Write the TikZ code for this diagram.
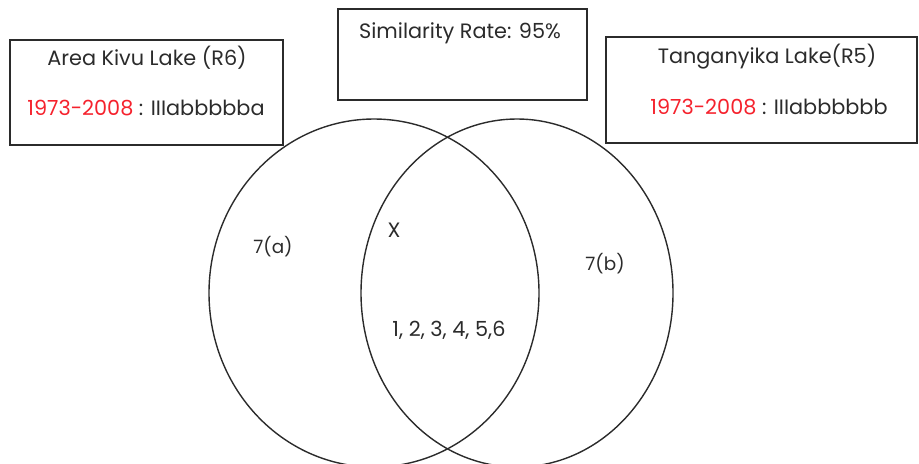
\documentclass[tikz,border=0pt]{standalone}
\usepackage{fontspec}
\setmainfont{Poppins}
\usetikzlibrary{shapes.geometric}
\definecolor{inkgray}{HTML}{2B2B2B}
\definecolor{yearred}{HTML}{F5222D}
\tikzset{lakebox/.style={draw=inkgray,line width=0.8pt,inner sep=0pt,outer sep=0pt},lakeset/.style={draw=inkgray,line width=0.7pt,ellipse,inner sep=0pt,outer sep=0pt},lakelabel/.style={font=\fontsize{10.4}{12}\selectfont,text=inkgray,inner sep=0pt},setlabel/.style={font=\fontsize{9.2}{11}\selectfont,text=inkgray,inner sep=0pt}}

\begin{document}
\begin{tikzpicture}[x=0.5pt,y=-0.5pt]
\useasboundingbox (0,0) rectangle (919,463);
\node[lakeset,minimum width=165pt,minimum height=174pt] (kivu) at (374,293) {};
\node[lakeset,minimum width=156pt,minimum height=174pt] (tang) at (517,293) {};
\node[lakebox,minimum width=136.5pt,minimum height=52.5pt] (kivubox) at (146.5,92.5) {};
\node[lakebox,minimum width=124.5pt,minimum height=45.5pt] (ratebox) at (462.5,54.5) {};
\node[lakebox,minimum width=155.5pt,minimum height=53pt] (tangbox) at (761.5,90) {};
\node[lakelabel] (kivutitle) at (147,58) {Area Kivu Lake (R6)};
\node[lakelabel] (kivucode) at (146,108) {\textcolor{yearred}{1973-2008} : IIIabbbbba};
\node[lakelabel] (rate) at (460,33) {Similarity Rate: 95\%};
\node[lakelabel] (tangtitle) at (767,57) {Tanganyika Lake(R5)};
\node[lakelabel] (tangcode) at (769,107) {\textcolor{yearred}{1973-2008} : IIIabbbbbb};
\node[setlabel] (onlya) at (273,247) {7(a)};
\node[lakelabel] (cross) at (394,230) {X};
\node[setlabel] (onlyb) at (605,264) {7(b)};
\node[lakelabel] (shared) at (449,330) {1, 2, 3, 4, 5,6};
\end{tikzpicture}
\end{document}
